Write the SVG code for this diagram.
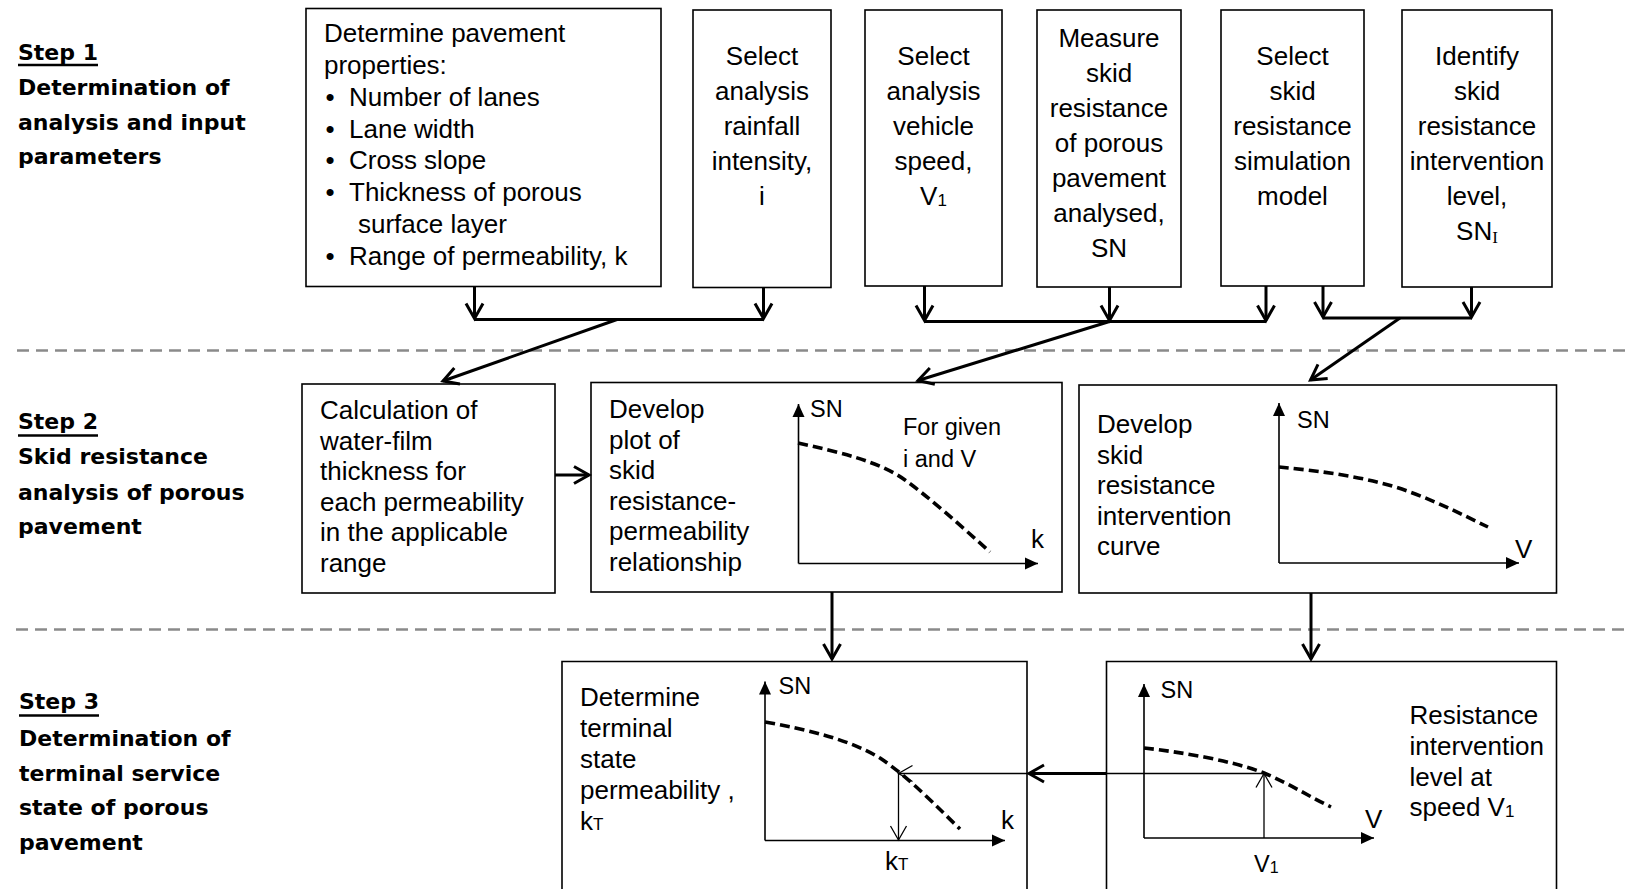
<svg xmlns="http://www.w3.org/2000/svg" width="1629" height="889" viewBox="0 0 1629 889">
<style>
  .box{fill:#fff;stroke:#000;stroke-width:1.6}
  .t{font-family:"Liberation Sans",Arial,sans-serif;font-size:26px;fill:#000}
  .c{text-anchor:middle}
  .g{font-family:"Liberation Sans",Arial,sans-serif;font-size:23.5px;fill:#000}
  .step{font-family:"DejaVu Sans",Verdana,sans-serif;font-weight:bold;font-size:22px;fill:#000}
  .ul{stroke:#000;stroke-width:2.4}
  .sep{stroke:#8a8a8a;stroke-width:2.6;stroke-dasharray:12 7;fill:none}
  .conn{stroke:#000;stroke-width:3;fill:none}
  .arr{stroke:#000;stroke-width:3;fill:none;marker-end:url(#v)}
  .axis{stroke:#000;stroke-width:1.6;fill:none;marker-end:url(#tri)}
  .curve{stroke:#000;stroke-width:3.6;fill:none;stroke-dasharray:10 5}
  .thin{stroke:#000;stroke-width:1.3;fill:none}
  .thinarr{stroke:#000;stroke-width:1.3;fill:none;marker-end:url(#vt)}
</style>
<defs>
  <marker id="v" markerUnits="userSpaceOnUse" markerWidth="24" markerHeight="24" viewBox="-20 -12 24 24" refX="0" refY="0" orient="auto" overflow="visible">
    <path d="M-15,-8.5 L0,0 L-15,8.5" fill="none" stroke="#000" stroke-width="3"/>
  </marker>
  <marker id="vt" markerUnits="userSpaceOnUse" markerWidth="24" markerHeight="24" viewBox="-20 -12 24 24" refX="0" refY="0" orient="auto" overflow="visible">
    <path d="M-14,-8 L0,0 L-14,8" fill="none" stroke="#000" stroke-width="1.3"/>
  </marker>
  <marker id="tri" markerUnits="userSpaceOnUse" markerWidth="20" markerHeight="20" viewBox="-16 -10 20 20" refX="0" refY="0" orient="auto" overflow="visible">
    <path d="M-13,-6 L0,0 L-13,6 Z" fill="#000"/>
  </marker>
</defs>
<rect width="1629" height="889" fill="#fff"/>

<!-- step labels -->
<g id="step1-label">
  <text class="step" x="18" y="60">Step 1</text>
  <line class="ul" x1="18" y1="65" x2="98" y2="65"/>
  <text class="step" x="18" y="95">Determination of</text>
  <text class="step" x="18" y="129.5">analysis and input</text>
  <text class="step" x="18" y="164">parameters</text>
</g>
<g id="step2-label">
  <text class="step" x="18" y="429">Step 2</text>
  <line class="ul" x1="18" y1="435.5" x2="98" y2="435.5"/>
  <text class="step" x="18" y="464">Skid resistance</text>
  <text class="step" x="18" y="499.5">analysis of porous</text>
  <text class="step" x="18" y="534">pavement</text>
</g>
<g id="step3-label">
  <text class="step" x="19" y="709">Step 3</text>
  <line class="ul" x1="19" y1="715.5" x2="99" y2="715.5"/>
  <text class="step" x="19" y="746">Determination of</text>
  <text class="step" x="19" y="780.5">terminal service</text>
  <text class="step" x="19" y="815">state of porous</text>
  <text class="step" x="19" y="850">pavement</text>
</g>

<!-- separators -->
<g id="separators">
  <line class="sep" x1="17" y1="350.5" x2="1629" y2="350.5"/>
  <line class="sep" x1="16" y1="629.5" x2="1629" y2="629.5"/>
</g>

<!-- Step 1 nodes -->
<g id="pavement-properties">
  <rect class="box" x="306" y="8.5" width="355" height="278"/>
  <text class="t" x="324" y="41.5">Determine pavement</text>
  <text class="t" x="324" y="73.5">properties:</text>
  <text class="t" x="325.5" y="105.5">•</text><text class="t" x="349" y="105.5">Number of lanes</text>
  <text class="t" x="325.5" y="137.5">•</text><text class="t" x="349" y="137.5">Lane width</text>
  <text class="t" x="325.5" y="169">•</text><text class="t" x="349" y="169">Cross slope</text>
  <text class="t" x="325.5" y="201">•</text><text class="t" x="349" y="201">Thickness of porous</text>
  <text class="t" x="358" y="233">surface layer</text>
  <text class="t" x="325.5" y="265">•</text><text class="t" x="349" y="265">Range of permeability, k</text>
</g>
<g id="rainfall">
  <rect class="box" x="693" y="10" width="138" height="277.5"/>
  <text class="t c" x="762" y="65">Select</text>
  <text class="t c" x="762" y="100">analysis</text>
  <text class="t c" x="762" y="135">rainfall</text>
  <text class="t c" x="762" y="170">intensity,</text>
  <text class="t c" x="762" y="205">i</text>
</g>
<g id="vehicle-speed">
  <rect class="box" x="865" y="10" width="137" height="276"/>
  <text class="t c" x="933.5" y="65">Select</text>
  <text class="t c" x="933.5" y="100">analysis</text>
  <text class="t c" x="933.5" y="135">vehicle</text>
  <text class="t c" x="933.5" y="170">speed,</text>
  <text class="t c" x="933.5" y="205">V<tspan font-size="17" dy="1">1</tspan></text>
</g>
<g id="measure-sn">
  <rect class="box" x="1037" y="10" width="144" height="277"/>
  <text class="t c" x="1109" y="47">Measure</text>
  <text class="t c" x="1109" y="82">skid</text>
  <text class="t c" x="1109" y="117">resistance</text>
  <text class="t c" x="1109" y="152">of porous</text>
  <text class="t c" x="1109" y="187">pavement</text>
  <text class="t c" x="1109" y="222">analysed,</text>
  <text class="t c" x="1109" y="257">SN</text>
</g>
<g id="simulation-model">
  <rect class="box" x="1221" y="10" width="143" height="276"/>
  <text class="t c" x="1292.5" y="65">Select</text>
  <text class="t c" x="1292.5" y="100">skid</text>
  <text class="t c" x="1292.5" y="135">resistance</text>
  <text class="t c" x="1292.5" y="170">simulation</text>
  <text class="t c" x="1292.5" y="205">model</text>
</g>
<g id="intervention-level">
  <rect class="box" x="1402" y="10" width="150" height="277"/>
  <text class="t c" x="1477" y="65">Identify</text>
  <text class="t c" x="1477" y="100">skid</text>
  <text class="t c" x="1477" y="135">resistance</text>
  <text class="t c" x="1477" y="170">intervention</text>
  <text class="t c" x="1477" y="205">level,</text>
  <text class="t c" x="1477" y="240">SN<tspan font-family="Liberation Serif,serif" font-size="17" dy="3">I</tspan></text>
</g>

<!-- Step 2 nodes -->
<g id="water-film">
  <rect class="box" x="302" y="384" width="253" height="209"/>
  <text class="t" x="320" y="419">Calculation of</text>
  <text class="t" x="320" y="449.5">water-film</text>
  <text class="t" x="320" y="480">thickness for</text>
  <text class="t" x="320" y="510.5">each permeability</text>
  <text class="t" x="320" y="541">in the applicable</text>
  <text class="t" x="320" y="571.5">range</text>
</g>
<g id="sn-permeability-plot">
  <rect class="box" x="591" y="382.5" width="471" height="209.5"/>
  <text class="t" x="609" y="418">Develop</text>
  <text class="t" x="609" y="448.5">plot of</text>
  <text class="t" x="609" y="479">skid</text>
  <text class="t" x="609" y="509.5">resistance-</text>
  <text class="t" x="609" y="540">permeability</text>
  <text class="t" x="609" y="570.5">relationship</text>
  <path class="axis" d="M798.5,563.5 V404"/>
  <path class="axis" d="M798.5,563.5 H1038"/>
  <path class="curve" d="M798,443 C840,452 880,462 905,480 C930,498 960,525 990,552"/>
  <text class="g" x="810" y="416.5">SN</text>
  <text class="g" x="903" y="435">For given</text>
  <text class="g" x="903" y="467">i and V</text>
  <text class="t" x="1031" y="548">k</text>
</g>
<g id="intervention-curve">
  <rect class="box" x="1079" y="385" width="477.5" height="208"/>
  <text class="t" x="1097" y="433">Develop</text>
  <text class="t" x="1097" y="463.5">skid</text>
  <text class="t" x="1097" y="494">resistance</text>
  <text class="t" x="1097" y="524.5">intervention</text>
  <text class="t" x="1097" y="555">curve</text>
  <path class="axis" d="M1279,563 V403"/>
  <path class="axis" d="M1279,563 H1519"/>
  <path class="curve" d="M1279,467 C1320,471 1370,477 1410,492 C1440,503 1465,516 1488,527"/>
  <text class="g" x="1297" y="428">SN</text>
  <text class="t" x="1515" y="558">V</text>
</g>

<!-- Step 3 nodes -->
<g id="terminal-permeability">
  <path class="box" d="M562,895 V661.5 H1027 V895"/>
  <text class="t" x="580" y="706">Determine</text>
  <text class="t" x="580" y="737">terminal</text>
  <text class="t" x="580" y="768">state</text>
  <text class="t" x="580" y="799">permeability ,</text>
  <text class="t" x="580" y="830">k<tspan font-size="17">T</tspan></text>
  <path class="axis" d="M765,840.5 V681.5"/>
  <path class="axis" d="M765,840.5 H1005"/>
  <path class="curve" d="M765,722 C810,730 850,740 880,758 C910,778 940,810 960,829"/>
  <text class="g" x="778.5" y="694">SN</text>
  <text class="t" x="1001" y="829">k</text>
  <text class="t" x="885" y="870">k<tspan font-size="17">T</tspan></text>
</g>
<g id="intervention-at-speed">
  <path class="box" d="M1106.5,895 V661.5 H1556.5 V895"/>
  <path class="axis" d="M1144,838 V684"/>
  <path class="axis" d="M1144,838 H1374"/>
  <path class="curve" d="M1144,748 C1180,752 1230,760 1264,773 C1290,784 1310,797 1331,807"/>
  <text class="g" x="1160.5" y="698">SN</text>
  <text class="t" x="1365" y="828">V</text>
  <text class="g" x="1254" y="871.5">V<tspan font-size="16" dy="1">1</tspan></text>
  <text class="t" x="1409.5" y="724">Resistance</text>
  <text class="t" x="1409.5" y="755">intervention</text>
  <text class="t" x="1409.5" y="785.5">level at</text>
  <text class="t" x="1409.5" y="816">speed V<tspan font-size="17" dy="1">1</tspan></text>
</g>

<!-- connectors -->
<g id="connectors">
  <!-- group 1 -->
  <path class="arr" d="M474.5,286.5 V318.5"/>
  <path class="arr" d="M763.5,287.5 V318.5"/>
  <path class="conn" d="M474.5,319.5 H763.5"/>
  <path class="arr" d="M617,319.5 L443,381"/>
  <!-- group 2 -->
  <path class="arr" d="M924.5,286 V320.5"/>
  <path class="arr" d="M1109.5,287 V320.5"/>
  <path class="arr" d="M1266,286 V320.5"/>
  <path class="conn" d="M924.5,321.5 H1266"/>
  <path class="arr" d="M1109.5,321.5 L918,380.5"/>
  <!-- group 3 -->
  <path class="arr" d="M1323,286 V317"/>
  <path class="arr" d="M1471.5,287 V317"/>
  <path class="conn" d="M1323,318 H1471.5"/>
  <path class="arr" d="M1400,318 L1310.5,380"/>
  <!-- step 2 -->
  <path class="arr" d="M555,475 H589"/>
  <path class="arr" d="M832,592 V659"/>
  <path class="arr" d="M1311,593 V659"/>
  <!-- step 3 -->
  <path class="thinarr" d="M1264,838 V773.5"/>
  <path class="thin" d="M1264,773.5 H1106.5"/>
  <path class="arr" d="M1106.5,773.5 H1029"/>
  <path class="thinarr" d="M1027,773.5 H898.5"/>
  <path class="thinarr" d="M898.5,773.5 V840"/>
</g>
</svg>
